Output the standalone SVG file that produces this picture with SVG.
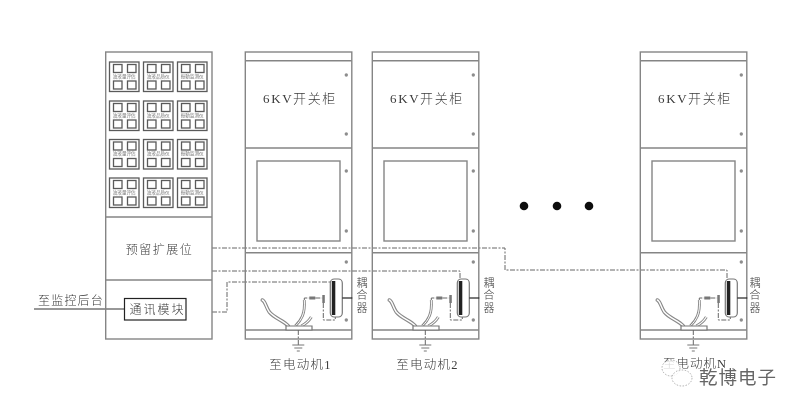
<svg xmlns="http://www.w3.org/2000/svg" xmlns:xlink="http://www.w3.org/1999/xlink" width="799" height="410" viewBox="0 0 799 410">
<style>
.f{fill:none;stroke:#858585;stroke-width:1.4}
.k{fill:none;stroke:#5a5a5a;stroke-width:1.300}
.d{fill:none;stroke:#666;stroke-width:1;stroke-dasharray:5 1.5 2 1.5}
.s{fill:#8d8d8d}
.t{font-family:"Liberation Serif","Noto Sans CJK SC",serif;fill:#3a3a3a;font-weight:300}
.m{text-anchor:middle}
.c{font-family:"Noto Sans CJK SC",sans-serif;font-size:4.6px;fill:#777;text-anchor:middle}
</style>
<defs>
<filter id="soft" x="0" y="0" width="100%" height="100%"><feGaussianBlur stdDeviation="0.35"/></filter>
<g id="cell">
<rect class="k" x="0" y="0" width="29.500" height="29.500"/>
<rect class="k" x="4" y="2.500" width="8.500" height="8"/>
<rect class="k" x="18" y="2.500" width="8.500" height="8"/>
<rect class="k" x="4" y="19" width="8.500" height="8"/>
<rect class="k" x="18" y="19" width="8.500" height="8"/>
</g>
<g id="cabinet">
<rect class="f" x="0" y="0" width="106.500" height="287"/>
<path class="f" d="M0 8.700H106.500M0 96H106.500M0 200.700H106.500M0 278H106.500"/>
<rect class="f" x="11.700" y="109" width="83" height="80"/>
<circle class="s" cx="101" cy="23" r="1.700"/>
<circle class="s" cx="101" cy="82" r="1.700"/>
<circle class="s" cx="101" cy="119" r="1.700"/>
<circle class="s" cx="101" cy="179" r="1.700"/>
<circle class="s" cx="101" cy="210" r="1.700"/>
<circle class="s" cx="101" cy="268" r="1.700"/>
<path d="M43 274C38 268 30 267 24 260 20 254 20 249 17 248" fill="none" stroke="#888" stroke-width="3.600" stroke-linecap="round"/>
<path d="M43 274C38 268 30 267 24 260 20 254 20 249 17 248" fill="none" stroke="#fff" stroke-width="1.400" stroke-linecap="round"/>
<path d="M50 274C56 268 60 262 59 248" fill="none" stroke="#888" stroke-width="2.800"/>
<path d="M50 274C56 268 60 262 59 248" fill="none" stroke="#fff" stroke-width="1"/>
<path d="M56 274C60 272 63 270 66 265" fill="none" stroke="#888" stroke-width="3"/>
<path d="M56 274C60 272 63 270 66 265" fill="none" stroke="#fff" stroke-width="1.200"/>
<path d="M40.700 274H66.700V278H40.700Z" fill="#fff" stroke="#777" stroke-width="1.200"/>
<path class="d" d="M59 248V246H64"/>
<rect x="64" y="244.500" width="6" height="3" fill="#777"/>
<path d="M70 246H77" class="d"/>
<rect x="77" y="243" width="2.500" height="8" fill="#777"/>
<path class="d" d="M78 251V268H90V265"/>
<rect x="85" y="227" width="12" height="38" rx="4" fill="#fff" stroke="#777" stroke-width="1.200"/>
<rect x="86.500" y="229" width="3.500" height="34" fill="#222"/>
<path d="M97 246H107" stroke="#222" stroke-width="1.200"/>
<path class="d" d="M53 278V293"/>
<path d="M47 293H59M49 296H57M51.500 299H54.500" stroke="#777" stroke-width="1"/>
</g>
</defs>

<g filter="url(#soft)">
<rect width="799" height="410" fill="#fff"/>
<g id="connectors">
<path class="d" d="M212 248H505V270H727V278"/>
<path class="d" d="M212 271H460V278"/>
<path class="d" d="M212 312H227V282H332"/>
<path d="M34 309H124" stroke="#333" stroke-width="1.200"/>
</g>

<g id="panel">
<rect class="f" x="105.700" y="52" width="106.300" height="287"/>
<path class="f" d="M105.700 217H212M105.700 280H212"/>
<g id="cells">
<use xlink:href="#cell" x="109.500" y="62"/><use xlink:href="#cell" x="143.500" y="62"/><use xlink:href="#cell" x="177.500" y="62"/>
<use xlink:href="#cell" x="109.500" y="101"/><use xlink:href="#cell" x="143.500" y="101"/><use xlink:href="#cell" x="177.500" y="101"/>
<use xlink:href="#cell" x="109.500" y="139.500"/><use xlink:href="#cell" x="143.500" y="139.500"/><use xlink:href="#cell" x="177.500" y="139.500"/>
<use xlink:href="#cell" x="109.500" y="178"/><use xlink:href="#cell" x="143.500" y="178"/><use xlink:href="#cell" x="177.500" y="178"/>
<text class="c" x="124.200" y="77.800">油液量评估</text><text class="c" x="158.200" y="77.800">油液品质仪</text><text class="c" x="192.200" y="77.800">振動监测仪</text>
<text class="c" x="124.200" y="116.800">油液量评估</text><text class="c" x="158.200" y="116.800">油液品质仪</text><text class="c" x="192.200" y="116.800">振動监测仪</text>
<text class="c" x="124.200" y="155.300">油液量评估</text><text class="c" x="158.200" y="155.300">油液品质仪</text><text class="c" x="192.200" y="155.300">振動监测仪</text>
<text class="c" x="124.200" y="193.800">油液量评估</text><text class="c" x="158.200" y="193.800">油液品质仪</text><text class="c" x="192.200" y="193.800">振動监测仪</text>
</g>
<text class="t m" x="159.500" y="253.500" font-size="12" letter-spacing="1.500">预留扩展位</text>
</g>

<g id="comm-module">
<rect x="124.500" y="298.500" width="61.500" height="21.500" fill="#fff" stroke="#222" stroke-width="1.200"/>
<text class="t m" x="157.500" y="314" font-size="12" letter-spacing="2">通讯模块</text>
</g>

<g id="to-monitor"><text class="t" x="38" y="305" font-size="12" letter-spacing="1.200">至监控后台</text></g>

<g id="cabinet-1">
<use xlink:href="#cabinet" x="245.300" y="52"/>
<text class="t m" x="300" y="103" font-size="13" letter-spacing="1.600">6KV开关柜</text>
<text class="t m" x="362" y="287" font-size="11">耦</text><text class="t m" x="362" y="299" font-size="11">合</text><text class="t m" x="362" y="312" font-size="11">器</text>
<text class="t m" x="300.500" y="369" font-size="12.500" letter-spacing="1.200">至电动机1</text>
</g>
<g id="cabinet-2">
<use xlink:href="#cabinet" x="372.300" y="52"/>
<text class="t m" x="427" y="103" font-size="13" letter-spacing="1.600">6KV开关柜</text>
<text class="t m" x="489" y="287" font-size="11">耦</text><text class="t m" x="489" y="299" font-size="11">合</text><text class="t m" x="489" y="312" font-size="11">器</text>
<text class="t m" x="427.500" y="369" font-size="12.500" letter-spacing="1.200">至电动机2</text>
</g>
<g id="cabinet-n">
<use xlink:href="#cabinet" x="640.300" y="52"/>
<text class="t m" x="695" y="103" font-size="13" letter-spacing="1.600">6KV开关柜</text>
<text class="t m" x="755" y="287" font-size="11">耦</text><text class="t m" x="755" y="299" font-size="11">合</text><text class="t m" x="755" y="312" font-size="11">器</text>
<text class="t m" x="695" y="368" font-size="12.500" letter-spacing="1">至电动机N</text>
</g>

<g id="ellipsis" fill="#111">
<circle cx="524" cy="206" r="4.300"/><circle cx="557" cy="206" r="4.300"/><circle cx="589" cy="206" r="4.300"/>
</g>

<g id="watermark">
<ellipse cx="671" cy="368" rx="9" ry="8" fill="#fff" fill-opacity=".8" stroke="#999" stroke-width=".8" stroke-dasharray="1.500 1.500"/>
<ellipse cx="682" cy="378" rx="10" ry="8" fill="#fff" fill-opacity=".8" stroke="#999" stroke-width=".8" stroke-dasharray="1.500 1.500"/>
<text x="699" y="384" font-family="'Noto Sans CJK SC',sans-serif" font-size="18.500" fill="#666" stroke="#fff" stroke-width="2.500" paint-order="stroke" letter-spacing="1">乾博电子</text>
</g>
</g>
</svg>
